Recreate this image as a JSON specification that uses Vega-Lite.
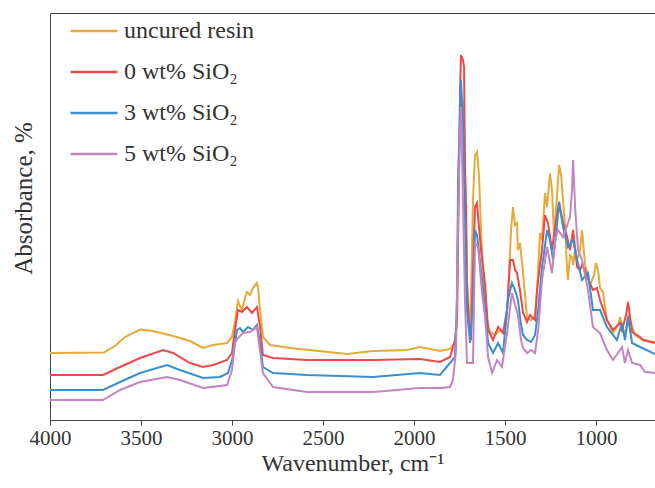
{
  "$schema": "https://vega.github.io/schema/vega-lite/v6.json",
  "width": 605,
  "height": 407,
  "autosize": {"type": "none"},
  "padding": {"left": 50, "top": 13, "right": 0, "bottom": 68},
  "background": "white",
  "config": {
    "view": {"stroke": null},
    "font": "Liberation Serif",
    "axis": {"labelFont": "Liberation Serif", "titleFont": "Liberation Serif", "labelColor": "#333", "titleColor": "#333", "domainColor": "#444", "tickColor": "#444", "grid": false, "titleFontWeight": "normal"},
    "legend": {"labelFont": "Liberation Serif", "labelColor": "#333"}
  },
  "datasets": {
    "spectra": [
      {"sample":"uncured resin","wavenumber":4000,"absorbance":67},{"sample":"uncured resin","wavenumber":3704,"absorbance":67.5},{"sample":"uncured resin","wavenumber":3643,"absorbance":74},{"sample":"uncured resin","wavenumber":3588,"absorbance":83},{"sample":"uncured resin","wavenumber":3505,"absorbance":90.5},{"sample":"uncured resin","wavenumber":3434,"absorbance":89},{"sample":"uncured resin","wavenumber":3324,"absorbance":84},{"sample":"uncured resin","wavenumber":3231,"absorbance":79},{"sample":"uncured resin","wavenumber":3159,"absorbance":72},{"sample":"uncured resin","wavenumber":3104,"absorbance":75},{"sample":"uncured resin","wavenumber":3027,"absorbance":77},{"sample":"uncured resin","wavenumber":3000,"absorbance":83},{"sample":"uncured resin","wavenumber":2984,"absorbance":98},{"sample":"uncured resin","wavenumber":2967,"absorbance":119},{"sample":"uncured resin","wavenumber":2947,"absorbance":110},{"sample":"uncured resin","wavenumber":2919,"absorbance":128},{"sample":"uncured resin","wavenumber":2901,"absorbance":125},{"sample":"uncured resin","wavenumber":2885,"absorbance":132},{"sample":"uncured resin","wavenumber":2864,"absorbance":137},{"sample":"uncured resin","wavenumber":2857,"absorbance":133},{"sample":"uncured resin","wavenumber":2846,"absorbance":110},{"sample":"uncured resin","wavenumber":2830,"absorbance":83},{"sample":"uncured resin","wavenumber":2791,"absorbance":75},{"sample":"uncured resin","wavenumber":2681,"absorbance":72},{"sample":"uncured resin","wavenumber":2368,"absorbance":66},{"sample":"uncured resin","wavenumber":2225,"absorbance":69},{"sample":"uncured resin","wavenumber":2038,"absorbance":70},{"sample":"uncured resin","wavenumber":1967,"absorbance":73},{"sample":"uncured resin","wavenumber":1857,"absorbance":69},{"sample":"uncured resin","wavenumber":1802,"absorbance":71},{"sample":"uncured resin","wavenumber":1775,"absorbance":77},{"sample":"uncured resin","wavenumber":1764,"absorbance":100},{"sample":"uncured resin","wavenumber":1753,"absorbance":270},{"sample":"uncured resin","wavenumber":1742,"absorbance":300},{"sample":"uncured resin","wavenumber":1731,"absorbance":320},{"sample":"uncured resin","wavenumber":1720,"absorbance":270},{"sample":"uncured resin","wavenumber":1709,"absorbance":120},{"sample":"uncured resin","wavenumber":1698,"absorbance":93},{"sample":"uncured resin","wavenumber":1687,"absorbance":120},{"sample":"uncured resin","wavenumber":1676,"absorbance":220},{"sample":"uncured resin","wavenumber":1665,"absorbance":265},{"sample":"uncured resin","wavenumber":1654,"absorbance":268},{"sample":"uncured resin","wavenumber":1643,"absorbance":245},{"sample":"uncured resin","wavenumber":1632,"absorbance":190},{"sample":"uncured resin","wavenumber":1615,"absorbance":130},{"sample":"uncured resin","wavenumber":1599,"absorbance":100},{"sample":"uncured resin","wavenumber":1582,"absorbance":88},{"sample":"uncured resin","wavenumber":1555,"absorbance":85},{"sample":"uncured resin","wavenumber":1528,"absorbance":90},{"sample":"uncured resin","wavenumber":1500,"absorbance":87},{"sample":"uncured resin","wavenumber":1484,"absorbance":120},{"sample":"uncured resin","wavenumber":1467,"absorbance":190},{"sample":"uncured resin","wavenumber":1456,"absorbance":213},{"sample":"uncured resin","wavenumber":1445,"absorbance":195},{"sample":"uncured resin","wavenumber":1434,"absorbance":197},{"sample":"uncured resin","wavenumber":1429,"absorbance":170},{"sample":"uncured resin","wavenumber":1418,"absorbance":177},{"sample":"uncured resin","wavenumber":1401,"absorbance":147},{"sample":"uncured resin","wavenumber":1379,"absorbance":102},{"sample":"uncured resin","wavenumber":1357,"absorbance":100},{"sample":"uncured resin","wavenumber":1335,"absorbance":104},{"sample":"uncured resin","wavenumber":1324,"absorbance":130},{"sample":"uncured resin","wavenumber":1308,"absorbance":187},{"sample":"uncured resin","wavenumber":1297,"absorbance":180},{"sample":"uncured resin","wavenumber":1280,"absorbance":227},{"sample":"uncured resin","wavenumber":1269,"absorbance":213},{"sample":"uncured resin","wavenumber":1253,"absorbance":247},{"sample":"uncured resin","wavenumber":1242,"absorbance":230},{"sample":"uncured resin","wavenumber":1231,"absorbance":185},{"sample":"uncured resin","wavenumber":1220,"absorbance":210},{"sample":"uncured resin","wavenumber":1203,"absorbance":255},{"sample":"uncured resin","wavenumber":1192,"absorbance":245},{"sample":"uncured resin","wavenumber":1181,"absorbance":220},{"sample":"uncured resin","wavenumber":1170,"absorbance":193},{"sample":"uncured resin","wavenumber":1159,"absorbance":150},{"sample":"uncured resin","wavenumber":1154,"absorbance":140},{"sample":"uncured resin","wavenumber":1143,"absorbance":165},{"sample":"uncured resin","wavenumber":1132,"absorbance":163},{"sample":"uncured resin","wavenumber":1126,"absorbance":155},{"sample":"uncured resin","wavenumber":1115,"absorbance":170},{"sample":"uncured resin","wavenumber":1104,"absorbance":160},{"sample":"uncured resin","wavenumber":1088,"absorbance":170},{"sample":"uncured resin","wavenumber":1077,"absorbance":190},{"sample":"uncured resin","wavenumber":1060,"absorbance":155},{"sample":"uncured resin","wavenumber":1033,"absorbance":135},{"sample":"uncured resin","wavenumber":1011,"absorbance":145},{"sample":"uncured resin","wavenumber":1000,"absorbance":157},{"sample":"uncured resin","wavenumber":989,"absorbance":150},{"sample":"uncured resin","wavenumber":978,"absorbance":132},{"sample":"uncured resin","wavenumber":962,"absorbance":128},{"sample":"uncured resin","wavenumber":940,"absorbance":100},{"sample":"uncured resin","wavenumber":907,"absorbance":87},{"sample":"uncured resin","wavenumber":879,"absorbance":95},{"sample":"uncured resin","wavenumber":868,"absorbance":103},{"sample":"uncured resin","wavenumber":852,"absorbance":88},{"sample":"uncured resin","wavenumber":835,"absorbance":90},{"sample":"uncured resin","wavenumber":824,"absorbance":105},{"sample":"uncured resin","wavenumber":808,"absorbance":97},{"sample":"uncured resin","wavenumber":786,"absorbance":85},{"sample":"uncured resin","wavenumber":758,"absorbance":82},{"sample":"uncured resin","wavenumber":720,"absorbance":79},{"sample":"uncured resin","wavenumber":676,"absorbance":78},

      {"sample":"0 wt% SiO₂","wavenumber":4000,"absorbance":45},{"sample":"0 wt% SiO₂","wavenumber":3709,"absorbance":45},{"sample":"0 wt% SiO₂","wavenumber":3615,"absorbance":53},{"sample":"0 wt% SiO₂","wavenumber":3505,"absorbance":62},{"sample":"0 wt% SiO₂","wavenumber":3379,"absorbance":70},{"sample":"0 wt% SiO₂","wavenumber":3324,"absorbance":67},{"sample":"0 wt% SiO₂","wavenumber":3231,"absorbance":57},{"sample":"0 wt% SiO₂","wavenumber":3159,"absorbance":53},{"sample":"0 wt% SiO₂","wavenumber":3104,"absorbance":55},{"sample":"0 wt% SiO₂","wavenumber":3027,"absorbance":60},{"sample":"0 wt% SiO₂","wavenumber":3000,"absorbance":67},{"sample":"0 wt% SiO₂","wavenumber":2984,"absorbance":90},{"sample":"0 wt% SiO₂","wavenumber":2967,"absorbance":110},{"sample":"0 wt% SiO₂","wavenumber":2945,"absorbance":108},{"sample":"0 wt% SiO₂","wavenumber":2918,"absorbance":113},{"sample":"0 wt% SiO₂","wavenumber":2890,"absorbance":107},{"sample":"0 wt% SiO₂","wavenumber":2863,"absorbance":113},{"sample":"0 wt% SiO₂","wavenumber":2846,"absorbance":93},{"sample":"0 wt% SiO₂","wavenumber":2830,"absorbance":65},{"sample":"0 wt% SiO₂","wavenumber":2775,"absorbance":62},{"sample":"0 wt% SiO₂","wavenumber":2588,"absorbance":60},{"sample":"0 wt% SiO₂","wavenumber":2225,"absorbance":60},{"sample":"0 wt% SiO₂","wavenumber":1967,"absorbance":61},{"sample":"0 wt% SiO₂","wavenumber":1857,"absorbance":58},{"sample":"0 wt% SiO₂","wavenumber":1802,"absorbance":63},{"sample":"0 wt% SiO₂","wavenumber":1775,"absorbance":80},{"sample":"0 wt% SiO₂","wavenumber":1764,"absorbance":97},{"sample":"0 wt% SiO₂","wavenumber":1758,"absorbance":180},{"sample":"0 wt% SiO₂","wavenumber":1747,"absorbance":330},{"sample":"0 wt% SiO₂","wavenumber":1742,"absorbance":365},{"sample":"0 wt% SiO₂","wavenumber":1731,"absorbance":360},{"sample":"0 wt% SiO₂","wavenumber":1725,"absorbance":353},{"sample":"0 wt% SiO₂","wavenumber":1720,"absorbance":247},{"sample":"0 wt% SiO₂","wavenumber":1714,"absorbance":213},{"sample":"0 wt% SiO₂","wavenumber":1709,"absorbance":140},{"sample":"0 wt% SiO₂","wavenumber":1698,"absorbance":95},{"sample":"0 wt% SiO₂","wavenumber":1687,"absorbance":80},{"sample":"0 wt% SiO₂","wavenumber":1676,"absorbance":150},{"sample":"0 wt% SiO₂","wavenumber":1665,"absorbance":213},{"sample":"0 wt% SiO₂","wavenumber":1654,"absorbance":217},{"sample":"0 wt% SiO₂","wavenumber":1648,"absorbance":203},{"sample":"0 wt% SiO₂","wavenumber":1632,"absorbance":170},{"sample":"0 wt% SiO₂","wavenumber":1610,"absorbance":137},{"sample":"0 wt% SiO₂","wavenumber":1593,"absorbance":90},{"sample":"0 wt% SiO₂","wavenumber":1566,"absorbance":80},{"sample":"0 wt% SiO₂","wavenumber":1538,"absorbance":93},{"sample":"0 wt% SiO₂","wavenumber":1511,"absorbance":87},{"sample":"0 wt% SiO₂","wavenumber":1489,"absorbance":110},{"sample":"0 wt% SiO₂","wavenumber":1472,"absorbance":160},{"sample":"0 wt% SiO₂","wavenumber":1456,"absorbance":160},{"sample":"0 wt% SiO₂","wavenumber":1445,"absorbance":150},{"sample":"0 wt% SiO₂","wavenumber":1434,"absorbance":147},{"sample":"0 wt% SiO₂","wavenumber":1418,"absorbance":130},{"sample":"0 wt% SiO₂","wavenumber":1401,"absorbance":107},{"sample":"0 wt% SiO₂","wavenumber":1379,"absorbance":98},{"sample":"0 wt% SiO₂","wavenumber":1363,"absorbance":105},{"sample":"0 wt% SiO₂","wavenumber":1335,"absorbance":100},{"sample":"0 wt% SiO₂","wavenumber":1324,"absorbance":130},{"sample":"0 wt% SiO₂","wavenumber":1308,"absorbance":155},{"sample":"0 wt% SiO₂","wavenumber":1297,"absorbance":170},{"sample":"0 wt% SiO₂","wavenumber":1280,"absorbance":205},{"sample":"0 wt% SiO₂","wavenumber":1264,"absorbance":197},{"sample":"0 wt% SiO₂","wavenumber":1242,"absorbance":170},{"sample":"0 wt% SiO₂","wavenumber":1225,"absorbance":193},{"sample":"0 wt% SiO₂","wavenumber":1203,"absorbance":218},{"sample":"0 wt% SiO₂","wavenumber":1181,"absorbance":197},{"sample":"0 wt% SiO₂","wavenumber":1159,"absorbance":183},{"sample":"0 wt% SiO₂","wavenumber":1143,"absorbance":170},{"sample":"0 wt% SiO₂","wavenumber":1126,"absorbance":190},{"sample":"0 wt% SiO₂","wavenumber":1104,"absorbance":153},{"sample":"0 wt% SiO₂","wavenumber":1088,"absorbance":150},{"sample":"0 wt% SiO₂","wavenumber":1077,"absorbance":155},{"sample":"0 wt% SiO₂","wavenumber":1060,"absorbance":150},{"sample":"0 wt% SiO₂","wavenumber":1049,"absorbance":143},{"sample":"0 wt% SiO₂","wavenumber":1017,"absorbance":130},{"sample":"0 wt% SiO₂","wavenumber":995,"absorbance":132},{"sample":"0 wt% SiO₂","wavenumber":978,"absorbance":120},{"sample":"0 wt% SiO₂","wavenumber":940,"absorbance":100},{"sample":"0 wt% SiO₂","wavenumber":907,"absorbance":90},{"sample":"0 wt% SiO₂","wavenumber":868,"absorbance":97},{"sample":"0 wt% SiO₂","wavenumber":857,"absorbance":90},{"sample":"0 wt% SiO₂","wavenumber":835,"absorbance":105},{"sample":"0 wt% SiO₂","wavenumber":824,"absorbance":118},{"sample":"0 wt% SiO₂","wavenumber":802,"absorbance":88},{"sample":"0 wt% SiO₂","wavenumber":758,"absorbance":83},{"sample":"0 wt% SiO₂","wavenumber":742,"absorbance":80},{"sample":"0 wt% SiO₂","wavenumber":676,"absorbance":77},

      {"sample":"3 wt% SiO₂","wavenumber":4000,"absorbance":30},{"sample":"3 wt% SiO₂","wavenumber":3709,"absorbance":30},{"sample":"3 wt% SiO₂","wavenumber":3615,"absorbance":38},{"sample":"3 wt% SiO₂","wavenumber":3505,"absorbance":47},{"sample":"3 wt% SiO₂","wavenumber":3357,"absorbance":55},{"sample":"3 wt% SiO₂","wavenumber":3286,"absorbance":50},{"sample":"3 wt% SiO₂","wavenumber":3159,"absorbance":42},{"sample":"3 wt% SiO₂","wavenumber":3066,"absorbance":43},{"sample":"3 wt% SiO₂","wavenumber":3022,"absorbance":47},{"sample":"3 wt% SiO₂","wavenumber":2995,"absorbance":63},{"sample":"3 wt% SiO₂","wavenumber":2973,"absorbance":90},{"sample":"3 wt% SiO₂","wavenumber":2956,"absorbance":92},{"sample":"3 wt% SiO₂","wavenumber":2940,"absorbance":88},{"sample":"3 wt% SiO₂","wavenumber":2912,"absorbance":93},{"sample":"3 wt% SiO₂","wavenumber":2885,"absorbance":90},{"sample":"3 wt% SiO₂","wavenumber":2863,"absorbance":95},{"sample":"3 wt% SiO₂","wavenumber":2846,"absorbance":77},{"sample":"3 wt% SiO₂","wavenumber":2830,"absorbance":53},{"sample":"3 wt% SiO₂","wavenumber":2775,"absorbance":47},{"sample":"3 wt% SiO₂","wavenumber":2588,"absorbance":45},{"sample":"3 wt% SiO₂","wavenumber":2225,"absorbance":43},{"sample":"3 wt% SiO₂","wavenumber":1967,"absorbance":47},{"sample":"3 wt% SiO₂","wavenumber":1857,"absorbance":45},{"sample":"3 wt% SiO₂","wavenumber":1775,"absorbance":63},{"sample":"3 wt% SiO₂","wavenumber":1764,"absorbance":120},{"sample":"3 wt% SiO₂","wavenumber":1758,"absorbance":240},{"sample":"3 wt% SiO₂","wavenumber":1742,"absorbance":340},{"sample":"3 wt% SiO₂","wavenumber":1731,"absorbance":297},{"sample":"3 wt% SiO₂","wavenumber":1720,"absorbance":200},{"sample":"3 wt% SiO₂","wavenumber":1709,"absorbance":110},{"sample":"3 wt% SiO₂","wavenumber":1692,"absorbance":77},{"sample":"3 wt% SiO₂","wavenumber":1676,"absorbance":120},{"sample":"3 wt% SiO₂","wavenumber":1665,"absorbance":190},{"sample":"3 wt% SiO₂","wavenumber":1654,"absorbance":185},{"sample":"3 wt% SiO₂","wavenumber":1626,"absorbance":140},{"sample":"3 wt% SiO₂","wavenumber":1610,"absorbance":113},{"sample":"3 wt% SiO₂","wavenumber":1593,"absorbance":77},{"sample":"3 wt% SiO₂","wavenumber":1566,"absorbance":67},{"sample":"3 wt% SiO₂","wavenumber":1538,"absorbance":77},{"sample":"3 wt% SiO₂","wavenumber":1511,"absorbance":67},{"sample":"3 wt% SiO₂","wavenumber":1484,"absorbance":120},{"sample":"3 wt% SiO₂","wavenumber":1462,"absorbance":137},{"sample":"3 wt% SiO₂","wavenumber":1445,"absorbance":130},{"sample":"3 wt% SiO₂","wavenumber":1429,"absorbance":120},{"sample":"3 wt% SiO₂","wavenumber":1412,"absorbance":95},{"sample":"3 wt% SiO₂","wavenumber":1401,"absorbance":85},{"sample":"3 wt% SiO₂","wavenumber":1379,"absorbance":80},{"sample":"3 wt% SiO₂","wavenumber":1357,"absorbance":78},{"sample":"3 wt% SiO₂","wavenumber":1335,"absorbance":85},{"sample":"3 wt% SiO₂","wavenumber":1318,"absorbance":110},{"sample":"3 wt% SiO₂","wavenumber":1297,"absorbance":153},{"sample":"3 wt% SiO₂","wavenumber":1280,"absorbance":175},{"sample":"3 wt% SiO₂","wavenumber":1269,"absorbance":190},{"sample":"3 wt% SiO₂","wavenumber":1253,"absorbance":180},{"sample":"3 wt% SiO₂","wavenumber":1236,"absorbance":160},{"sample":"3 wt% SiO₂","wavenumber":1220,"absorbance":185},{"sample":"3 wt% SiO₂","wavenumber":1203,"absorbance":217},{"sample":"3 wt% SiO₂","wavenumber":1181,"absorbance":193},{"sample":"3 wt% SiO₂","wavenumber":1154,"absorbance":173},{"sample":"3 wt% SiO₂","wavenumber":1126,"absorbance":180},{"sample":"3 wt% SiO₂","wavenumber":1104,"absorbance":160},{"sample":"3 wt% SiO₂","wavenumber":1077,"absorbance":140},{"sample":"3 wt% SiO₂","wavenumber":1044,"absorbance":147},{"sample":"3 wt% SiO₂","wavenumber":1017,"absorbance":110},{"sample":"3 wt% SiO₂","wavenumber":978,"absorbance":110},{"sample":"3 wt% SiO₂","wavenumber":940,"absorbance":93},{"sample":"3 wt% SiO₂","wavenumber":885,"absorbance":80},{"sample":"3 wt% SiO₂","wavenumber":857,"absorbance":97},{"sample":"3 wt% SiO₂","wavenumber":841,"absorbance":80},{"sample":"3 wt% SiO₂","wavenumber":824,"absorbance":103},{"sample":"3 wt% SiO₂","wavenumber":802,"absorbance":77},{"sample":"3 wt% SiO₂","wavenumber":758,"absorbance":73},{"sample":"3 wt% SiO₂","wavenumber":676,"absorbance":66},

      {"sample":"5 wt% SiO₂","wavenumber":4000,"absorbance":20},{"sample":"5 wt% SiO₂","wavenumber":3709,"absorbance":20},{"sample":"5 wt% SiO₂","wavenumber":3615,"absorbance":30},{"sample":"5 wt% SiO₂","wavenumber":3505,"absorbance":38},{"sample":"5 wt% SiO₂","wavenumber":3357,"absorbance":43},{"sample":"5 wt% SiO₂","wavenumber":3286,"absorbance":40},{"sample":"5 wt% SiO₂","wavenumber":3159,"absorbance":32},{"sample":"5 wt% SiO₂","wavenumber":3027,"absorbance":35},{"sample":"5 wt% SiO₂","wavenumber":3000,"absorbance":50},{"sample":"5 wt% SiO₂","wavenumber":2984,"absorbance":77},{"sample":"5 wt% SiO₂","wavenumber":2967,"absorbance":82},{"sample":"5 wt% SiO₂","wavenumber":2940,"absorbance":87},{"sample":"5 wt% SiO₂","wavenumber":2901,"absorbance":88},{"sample":"5 wt% SiO₂","wavenumber":2863,"absorbance":93},{"sample":"5 wt% SiO₂","wavenumber":2852,"absorbance":77},{"sample":"5 wt% SiO₂","wavenumber":2830,"absorbance":47},{"sample":"5 wt% SiO₂","wavenumber":2775,"absorbance":33},{"sample":"5 wt% SiO₂","wavenumber":2588,"absorbance":28},{"sample":"5 wt% SiO₂","wavenumber":2225,"absorbance":28},{"sample":"5 wt% SiO₂","wavenumber":1967,"absorbance":32},{"sample":"5 wt% SiO₂","wavenumber":1857,"absorbance":32},{"sample":"5 wt% SiO₂","wavenumber":1802,"absorbance":33},{"sample":"5 wt% SiO₂","wavenumber":1786,"absorbance":40},{"sample":"5 wt% SiO₂","wavenumber":1769,"absorbance":70},{"sample":"5 wt% SiO₂","wavenumber":1758,"absorbance":200},{"sample":"5 wt% SiO₂","wavenumber":1747,"absorbance":290},{"sample":"5 wt% SiO₂","wavenumber":1742,"absorbance":313},{"sample":"5 wt% SiO₂","wavenumber":1736,"absorbance":263},{"sample":"5 wt% SiO₂","wavenumber":1720,"absorbance":120},{"sample":"5 wt% SiO₂","wavenumber":1709,"absorbance":57},{"sample":"5 wt% SiO₂","wavenumber":1676,"absorbance":57},{"sample":"5 wt% SiO₂","wavenumber":1665,"absorbance":177},{"sample":"5 wt% SiO₂","wavenumber":1648,"absorbance":173},{"sample":"5 wt% SiO₂","wavenumber":1626,"absorbance":127},{"sample":"5 wt% SiO₂","wavenumber":1610,"absorbance":103},{"sample":"5 wt% SiO₂","wavenumber":1593,"absorbance":63},{"sample":"5 wt% SiO₂","wavenumber":1571,"absorbance":47},{"sample":"5 wt% SiO₂","wavenumber":1544,"absorbance":60},{"sample":"5 wt% SiO₂","wavenumber":1517,"absorbance":53},{"sample":"5 wt% SiO₂","wavenumber":1489,"absorbance":87},{"sample":"5 wt% SiO₂","wavenumber":1462,"absorbance":127},{"sample":"5 wt% SiO₂","wavenumber":1445,"absorbance":115},{"sample":"5 wt% SiO₂","wavenumber":1429,"absorbance":105},{"sample":"5 wt% SiO₂","wavenumber":1412,"absorbance":80},{"sample":"5 wt% SiO₂","wavenumber":1401,"absorbance":72},{"sample":"5 wt% SiO₂","wavenumber":1379,"absorbance":67},{"sample":"5 wt% SiO₂","wavenumber":1357,"absorbance":70},{"sample":"5 wt% SiO₂","wavenumber":1335,"absorbance":67},{"sample":"5 wt% SiO₂","wavenumber":1318,"absorbance":90},{"sample":"5 wt% SiO₂","wavenumber":1297,"absorbance":140},{"sample":"5 wt% SiO₂","wavenumber":1269,"absorbance":173},{"sample":"5 wt% SiO₂","wavenumber":1242,"absorbance":147},{"sample":"5 wt% SiO₂","wavenumber":1225,"absorbance":180},{"sample":"5 wt% SiO₂","wavenumber":1209,"absorbance":190},{"sample":"5 wt% SiO₂","wavenumber":1181,"absorbance":183},{"sample":"5 wt% SiO₂","wavenumber":1143,"absorbance":203},{"sample":"5 wt% SiO₂","wavenumber":1132,"absorbance":230},{"sample":"5 wt% SiO₂","wavenumber":1126,"absorbance":260},{"sample":"5 wt% SiO₂","wavenumber":1115,"absorbance":213},{"sample":"5 wt% SiO₂","wavenumber":1099,"absorbance":170},{"sample":"5 wt% SiO₂","wavenumber":1077,"absorbance":160},{"sample":"5 wt% SiO₂","wavenumber":1044,"absorbance":130},{"sample":"5 wt% SiO₂","wavenumber":1017,"absorbance":93},{"sample":"5 wt% SiO₂","wavenumber":978,"absorbance":87},{"sample":"5 wt% SiO₂","wavenumber":940,"absorbance":70},{"sample":"5 wt% SiO₂","wavenumber":907,"absorbance":60},{"sample":"5 wt% SiO₂","wavenumber":857,"absorbance":73},{"sample":"5 wt% SiO₂","wavenumber":841,"absorbance":57},{"sample":"5 wt% SiO₂","wavenumber":824,"absorbance":70},{"sample":"5 wt% SiO₂","wavenumber":802,"absorbance":57},{"sample":"5 wt% SiO₂","wavenumber":758,"absorbance":55},{"sample":"5 wt% SiO₂","wavenumber":731,"absorbance":48},{"sample":"5 wt% SiO₂","wavenumber":676,"absorbance":47}
    ],
    "frame": [{"wavenumber": 4000}, {"wavenumber": 676}]
  },
  "layer": [
    {
      "data": {"name": "spectra"},
      "mark": {"type": "line", "strokeWidth": 2, "clip": true},
      "encoding": {
        "x": {"field": "wavenumber", "type": "quantitative", "scale": {"domain": [4000, 676], "nice": false, "zero": false},
              "axis": {"orient": "bottom", "values": [4000, 3500, 3000, 2500, 2000, 1500, 1000], "format": "d", "labelFlush": false, "labelFontSize": 21, "labelPadding": 2, "tickSize": 5, "title": "Wavenumber, cm⁻¹", "titleFontSize": 24, "titlePadding": 3}},
        "y": {"field": "absorbance", "type": "quantitative", "scale": {"domain": [0, 407], "nice": false, "zero": false},
              "axis": {"orient": "left", "labels": false, "ticks": false, "title": "Absorbance, %", "titleFontSize": 25, "titlePadding": 14, "titleY": 185}},
        "color": {"field": "sample", "type": "nominal",
                  "scale": {"domain": ["uncured resin", "0 wt% SiO₂", "3 wt% SiO₂", "5 wt% SiO₂"], "range": ["#E6A93A", "#EE4848", "#3A8ED2", "#C284C2"]},
                  "legend": {"title": null, "orient": "none", "legendX": 31, "legendY": 5, "padding": 0, "symbolType": "M-2,0H2", "symbolSize": 552, "symbolStrokeWidth": 2.5, "labelFontSize": 24, "labelOffset": 17, "rowPadding": 16, "labelColor": "#333"}}
      }
    },
    {
      "data": {"name": "frame"},
      "mark": {"type": "point", "opacity": 0},
      "encoding": {
        "x": {"field": "wavenumber", "type": "quantitative", "axis": {"orient": "top", "labels": false, "ticks": false, "title": null, "domainColor": "#444"}}
      }
    }
  ],
  "resolve": {"axis": {"x": "independent"}}
}
